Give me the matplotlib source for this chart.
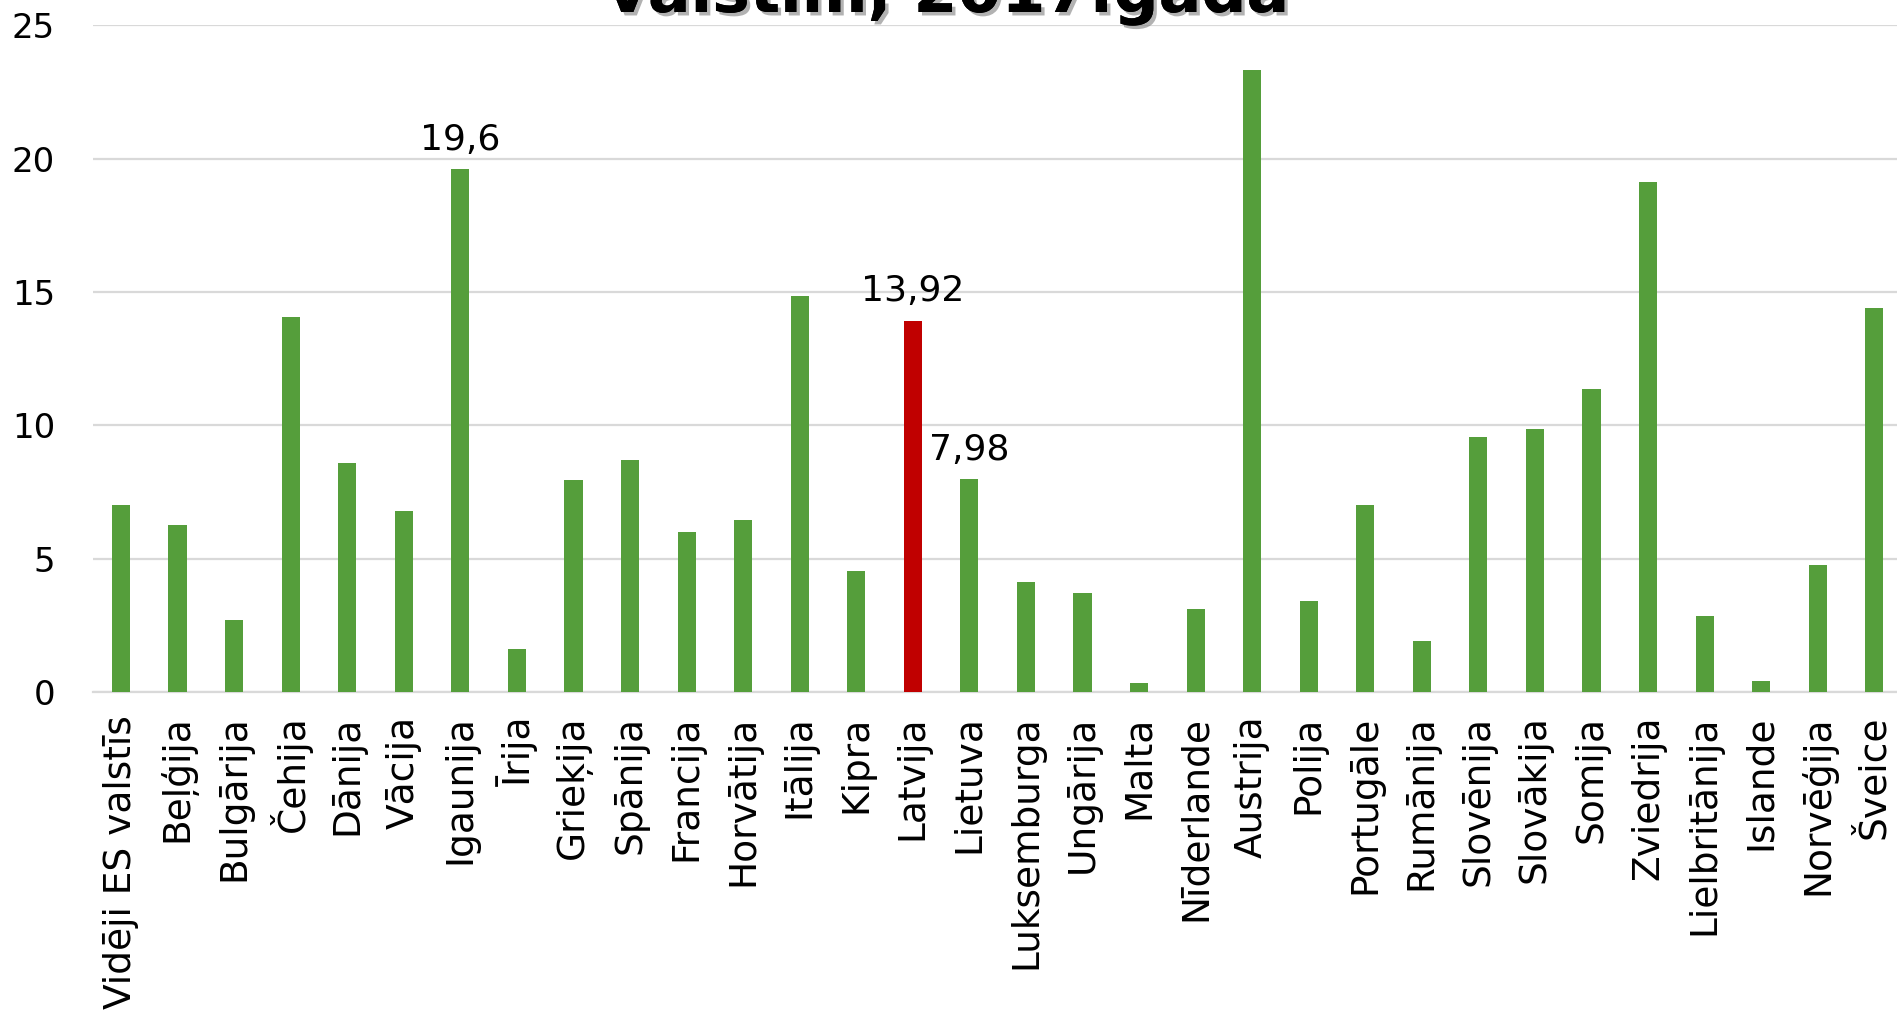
import matplotlib
matplotlib.use("Agg")
import matplotlib.pyplot as plt
import matplotlib.patheffects as pe

categories = ["Vidēji ES valstīs", "Beļģija", "Bulgārija", "Čehija", "Dānija", "Vācija",
              "Igaunija", "Īrija", "Grieķija", "Spānija", "Francija", "Horvātija",
              "Itālija", "Kipra", "Latvija", "Lietuva", "Luksemburga", "Ungārija",
              "Malta", "Nīderlande", "Austrija", "Polija", "Portugāle", "Rumānija",
              "Slovēnija", "Slovākija", "Somija", "Zviedrija", "Lielbritānija",
              "Islande", "Norvēģija", "Šveice"]
values = [7.0, 6.26, 2.69, 14.07, 8.57, 6.8,
          19.6, 1.63, 7.94, 8.71, 5.99, 6.44,
          14.84, 4.54, 13.92, 7.98, 4.13, 3.72,
          0.32, 3.13, 23.32, 3.40, 7.03, 1.91,
          9.57, 9.87, 11.38, 19.13, 2.84,
          0.41, 4.78, 14.42]
labelled = {"Igaunija": "19,6", "Latvija": "13,92", "Lietuva": "7,98"}
highlight = "Latvija"
title_text = "valstīm, 2017.gadā"
yticks = [0, 5, 10, 15, 20, 25]

green = "#559E3B"
red = "#C00000"
grid = "#D9D9D9"

plt.rcParams['font.family'] = ['DejaVu Sans']

W, H = 1897, 1017
fig = plt.figure(figsize=(W / 100, H / 100), dpi=100)
left = 92.7 / W
right = 1902.6 / W
bottom = 1 - 692 / H
height = (692 - 25.4) / H
ax = fig.add_axes([left, bottom, right - left, height])

x = list(range(len(categories)))
colors = [red if c == highlight else green for c in categories]
ax.bar(x, values, width=0.32, color=colors, zorder=3)

ax.set_xlim(-0.5, len(categories) - 0.5)
ax.set_ylim(0, 25)
ax.set_yticks(yticks)
ax.set_yticklabels([str(t) for t in yticks], fontsize=24.5)
ax.set_xticks(x)
ax.set_xticklabels(categories, rotation=90, fontsize=27)
ax.tick_params(axis='y', length=0, pad=27)
ax.tick_params(axis='x', length=0, pad=17)
ax.yaxis.grid(True, color=grid, linewidth=1.6, zorder=0)
ax.set_axisbelow(True)
for s in ['top', 'right', 'left']:
    ax.spines[s].set_visible(False)
ax.spines['bottom'].set_color(grid)
ax.spines['bottom'].set_linewidth(1.6)

for i, (c, v) in enumerate(zip(categories, values)):
    if c in labelled:
        ax.annotate(labelled[c], xy=(i, v), xytext=(0, 14), textcoords='offset points',
                    ha='center', va='baseline', fontsize=26, zorder=4)

fig.text(0.5, 1 - 12 / H, title_text, ha='center', va='baseline', fontsize=45.5,
         fontweight='bold',
         path_effects=[pe.withSimplePatchShadow(offset=(2.5, -2.5), shadow_rgbFace='#7f7f7f', alpha=0.6),
                       pe.Normal()])

fig.savefig("out.png", dpi=100)
